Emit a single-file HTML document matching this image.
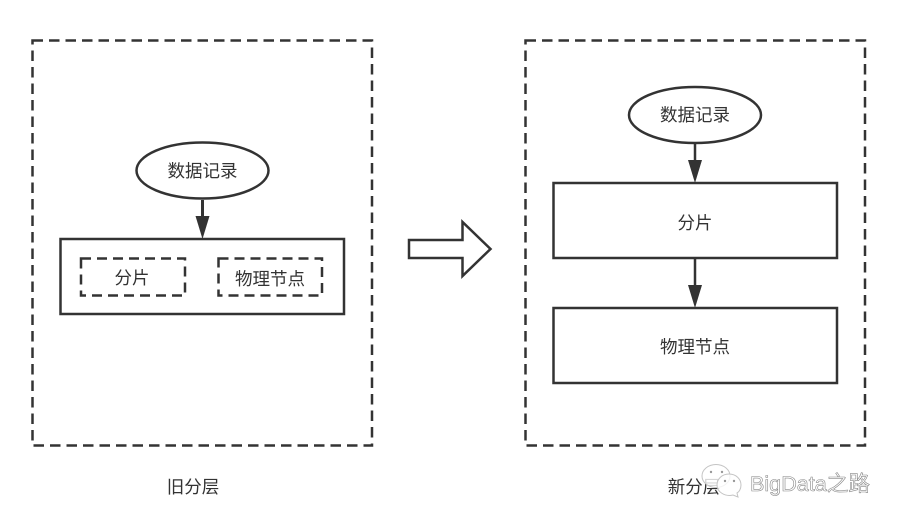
<!DOCTYPE html>
<html>
<head>
<meta charset="utf-8">
<style>
html,body{margin:0;padding:0;background:#fff;width:900px;height:524px;overflow:hidden}
svg{display:block}
text{font-family:"Liberation Sans","Noto Sans CJK SC",sans-serif;font-size:17.5px;fill:#333;text-anchor:middle}
</style>
</head>
<body>
<svg width="900" height="524" viewBox="0 0 900 524" xmlns="http://www.w3.org/2000/svg">
<g fill="none" stroke="#333" stroke-width="2.5">
<rect x="32.5" y="40.5" width="339.5" height="405" stroke-dasharray="10.5 6"/>
<rect x="525.5" y="40.5" width="339.5" height="405" stroke-dasharray="10.5 6"/>
<ellipse cx="202.5" cy="170.5" rx="66" ry="28"/>
<rect x="60.5" y="239" width="283.5" height="75"/>
<rect x="81" y="258.5" width="104" height="37" stroke-dasharray="10 6"/>
<rect x="218.5" y="258.5" width="103.5" height="37" stroke-dasharray="10 6"/>
<ellipse cx="695" cy="115" rx="66" ry="28"/>
<rect x="553.5" y="183" width="283.5" height="75"/>
<rect x="553.5" y="308" width="283.5" height="75"/>
<path d="M202.5 200V218" stroke-width="3"/>
<path d="M695 143V162"/>
<path d="M695 258V288"/>
<path d="M409 240H462.5V222L490.5 249L462.5 276V258H409Z"/>
</g>
<g fill="#333">
<path d="M195.5 216H209.5L202.5 239Z"/>
<path d="M688 160H702L695 183Z"/>
<path d="M688 285H702L695 308Z"/>
</g>
<text x="202.5" y="177">数据记录</text>
<text x="132" y="284">分片</text>
<text x="270" y="285">物理节点</text>
<text x="695" y="121">数据记录</text>
<text x="695" y="229">分片</text>
<text x="695" y="353">物理节点</text>
<text x="193" y="493">旧分层</text>
<text x="694" y="493">新分层</text>
<g fill="#fff" fill-opacity=".8" stroke="#c4c4c4" stroke-width="1">
<ellipse cx="716" cy="476" rx="14" ry="11.5"/>
<path d="M729 474c7 0 12 5 12 11c0 4-2 7-4 8l1 4l-5-2c-8 2-16-3-16-10c0-6 5-11 12-11Z"/>
</g>
<g fill="#999">
<circle cx="711" cy="472" r="1.2"/>
<circle cx="722" cy="472" r="1.2"/>
<circle cx="725" cy="481" r="1.2"/>
<circle cx="734" cy="481" r="1.2"/>
</g>
<text x="810" y="491" style="font-size:21.6px;fill:#fff;stroke:#888;stroke-width:.6">BigData之路</text>
</svg>
</body>
</html>
